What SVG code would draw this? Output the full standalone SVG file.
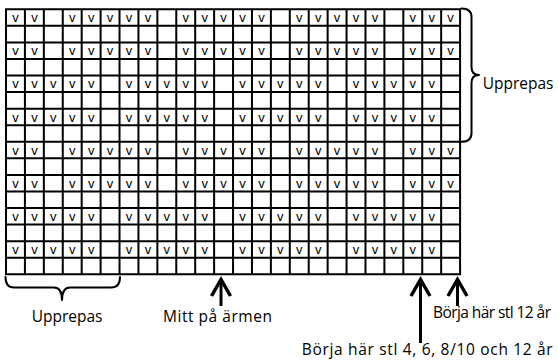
<svg xmlns="http://www.w3.org/2000/svg" xmlns:xlink="http://www.w3.org/1999/xlink" width="558" height="360" viewBox="0 0 558 360">
<style>
.grid{fill:none;stroke:#000;stroke-width:2}
.v{font-family:"Liberation Sans",Arial,sans-serif;font-size:13px;fill:#000;text-anchor:middle}
.lbl{font-family:"Open Sans","Noto Sans",sans-serif;font-size:15.5px;fill:#000}
.brace{fill:none;stroke:#000;stroke-width:2;stroke-linecap:round;stroke-linejoin:round}
.shaft{fill:none;stroke:#000;stroke-width:3}
.head{fill:none;stroke:#000;stroke-width:3.5;stroke-linejoin:miter;stroke-miterlimit:10}
</style>
<defs>
<text id="rowA" class="v" y="0" x="15.46 34.38 72.22 91.14 110.06 128.98 147.9 185.74 204.66 223.58 242.5 261.42 299.26 318.18 337.1 356.02 374.94 412.78 431.7 450.62">vvvvvvvvvvvvvvvvvvvv</text>
<text id="rowB" class="v" y="0" x="15.46 34.38 53.3 72.22 91.14 128.98 147.9 166.82 185.74 204.66 242.5 261.42 280.34 299.26 318.18 356.02 374.94 393.86 412.78 431.7">vvvvvvvvvvvvvvvvvvvv</text>
</defs>
<rect width="558" height="360" fill="#fff"/>
<g id="chart">
<path class="grid" d="M6 9.3V274.26M24.92 9.3V274.26M43.84 9.3V274.26M62.76 9.3V274.26M81.68 9.3V274.26M100.6 9.3V274.26M119.52 9.3V274.26M138.44 9.3V274.26M157.36 9.3V274.26M176.28 9.3V274.26M195.2 9.3V274.26M214.12 9.3V274.26M233.04 9.3V274.26M251.96 9.3V274.26M270.88 9.3V274.26M289.8 9.3V274.26M308.72 9.3V274.26M327.64 9.3V274.26M346.56 9.3V274.26M365.48 9.3V274.26M384.4 9.3V274.26M403.32 9.3V274.26M422.24 9.3V274.26M441.16 9.3V274.26M460.08 9.3V274.26M5 9.3H461.08M5 25.86H461.08M5 42.42H461.08M5 58.98H461.08M5 75.54H461.08M5 92.1H461.08M5 108.66H461.08M5 125.22H461.08M5 141.78H461.08M5 158.34H461.08M5 174.9H461.08M5 191.46H461.08M5 208.02H461.08M5 224.58H461.08M5 241.14H461.08M5 257.7H461.08M5 274.26H461.08"/>
<use xlink:href="#rowA" href="#rowA" transform="translate(0 22.2)"/>
<use xlink:href="#rowA" href="#rowA" transform="translate(0 55.3)"/>
<use xlink:href="#rowB" href="#rowB" transform="translate(0 88.4)"/>
<use xlink:href="#rowB" href="#rowB" transform="translate(0 121.6)"/>
<use xlink:href="#rowA" href="#rowA" transform="translate(0 154.7)"/>
<use xlink:href="#rowA" href="#rowA" transform="translate(0 187.8)"/>
<use xlink:href="#rowB" href="#rowB" transform="translate(0 220.9)"/>
<use xlink:href="#rowB" href="#rowB" transform="translate(0 254)"/>
</g>
<g id="connectors">
<path class="brace" d="M461.5 8.5Q471.5 8.5 471.5 17V67Q471.5 75 479 75Q471.5 75 471.5 83V133Q471.5 141.8 461.5 141.8"/>
<path class="brace" d="M5.5 277Q5.5 287.5 14 287.5H54Q62 287.5 62 300Q62 287.5 70 287.5H111Q120 287.5 120 277"/>
<path class="shaft" d="M221 281V306"/>
<polyline class="head" points="211.5,296 221,279.5 230.5,296"/>
<path class="shaft" d="M420.5 281V343"/>
<polyline class="head" points="411,296 420.5,279.5 430,296"/>
<path class="shaft" d="M457.5 281V306"/>
<polyline class="head" points="448,296 457.5,279.5 467,296"/>
</g>
<g id="label-upprepas-right"><text class="lbl" x="482.7" y="89">Upprepas</text></g>
<g id="label-upprepas-bottom"><text class="lbl" x="31.7" y="322">Upprepas</text></g>
<g id="label-mitt"><text class="lbl" x="163" y="322" textLength="109" lengthAdjust="spacing">Mitt på ärmen</text></g>
<g id="label-start-12"><text class="lbl" x="433" y="318.3" textLength="118" lengthAdjust="spacing">Börja här stl 12 år</text></g>
<g id="label-start-all"><text class="lbl" x="301.7" y="355" textLength="251" lengthAdjust="spacing">Börja här stl 4, 6, 8/10 och 12 år</text></g>
</svg>
